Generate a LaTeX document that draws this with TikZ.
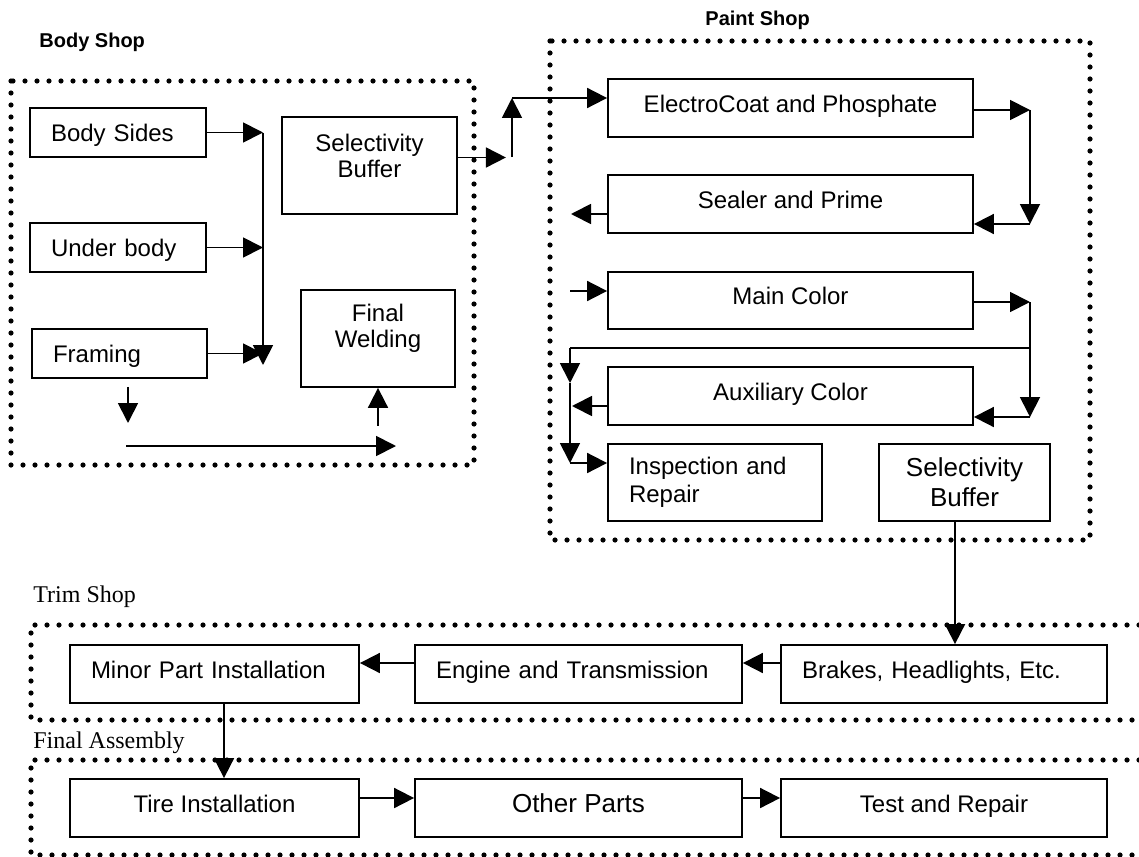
\documentclass[tikz,border=0pt]{standalone}
\usepackage{fontspec}
\setmainfont{Liberation Sans}
\newfontfamily\serifshop{Liberation Serif}
\usetikzlibrary{arrows.meta}

\begin{document}
\begin{tikzpicture}[x=0.5pt,y=-0.5pt,
    box/.style={draw,line width=0.9pt,inner sep=0pt,
      font=\fontsize{12}{14}\selectfont},
    two/.style={align=center},
    big/.style={font=\fontsize{13}{15}\selectfont},
    mid/.style={text height=8.8pt,text depth=0.2pt},
    high/.style={text height=8.8pt,text depth=4.4pt},
    lbox/.style={box,inner xsep=10.5pt,text width=#1,align=left},
    dots/.style={line width=2.6pt,line cap=round,dash pattern=on 0pt off 6pt},
    arr/.style={line width=0.9pt,-{Triangle[length=10pt,width=10pt]}},
    shop/.style={anchor=west,inner sep=0pt,font=\bfseries\fontsize{10}{12}\selectfont},
    area/.style={anchor=west,inner sep=0pt,font=\serifshop\fontsize{12}{14}\selectfont}]
  \useasboundingbox (0,0) rectangle (1139,856);

  % shop borders
  \draw[dots] (11,81) rectangle (474,465);
  \draw[dots] (550,41) rectangle (1090,540);
  \draw[dots] (1139,625) -- (31,625) -- (31,720) -- (1139,720);
  \draw[dots] (1139,760) -- (31,760) -- (31,855) -- (1139,855);

  \node[shop] (bodylbl) at (39,42) {Body Shop};
  \node[shop] (paintlbl) at (705,20) {Paint Shop};
  \node[area] (trimlbl) at (33,597) {Trim Shop};
  \node[area] (finallbl) at (33,743) {Final Assembly};

  % body shop
  \node[lbox=67pt,mid,minimum height=24.5pt] (bsides) at (118,132.5) {Body Sides};
  \node[lbox=67pt,mid,minimum height=24.5pt] (under) at (118,247.5) {Under body};
  \node[lbox=66.5pt,mid,minimum height=24.5pt] (frame) at (119.5,353.5) {Framing};
  \node[box,minimum width=87.5pt,minimum height=48.5pt,
    label={[font=\fontsize{12}{13}\selectfont,align=center,yshift=4.75pt]center:Selectivity\\Buffer}]
    (bbuf) at (369.5,165.5) {};
  \node[box,minimum width=77pt,minimum height=48.5pt,
    label={[font=\fontsize{12}{13}\selectfont,align=center,yshift=5pt]center:Final\\Welding}]
    (weld) at (378,338.5) {};

  \coordinate (mtop) at (263,132.5);
  \coordinate (mbot) at (263,365);
  \draw[arr] (bsides.east) -- (bsides.east -| mtop);
  \draw[arr] (under.east) -- (under.east -| mtop);
  \draw[arr] (frame.east) -- (frame.east -| mtop);
  \draw[arr] (mtop) -- (mbot);
  \coordinate (fdown) at (128,423);
  \draw[arr] ([yshift=-4pt]frame.south -| fdown) -- (fdown);
  \coordinate (lowL) at (126,446);
  \coordinate (lowR) at (396,446);
  \draw[arr] (lowL) -- (lowR);
  \draw[arr] ([yshift=-19pt]weld.south) -- (weld.south);

  % paint shop
  \node[box,high,minimum width=182.5pt,minimum height=29pt] (electro) at (790.5,108) {ElectroCoat and Phosphate};
  \node[box,high,minimum width=182.5pt,minimum height=29pt] (sealer) at (790.5,204) {Sealer and Prime};
  \node[box,high,minimum width=182.5pt,minimum height=28.5pt] (main) at (790.5,300.5) {Main Color};
  \node[box,high,minimum width=182.5pt,minimum height=29pt] (aux) at (790.5,396) {Auxiliary Color};
  \node[lbox=86pt,minimum height=38.5pt] (insp) at (715,482.5) {Inspection and\\Repair};
  \node[box,two,big,minimum width=85.5pt,minimum height=38.5pt] (pbuf) at (964.5,482.5) {Selectivity\\Buffer};

  \coordinate (riser) at (512,157);
  \coordinate (rtop) at (512,98);
  \draw[arr] ([yshift=4pt]bbuf.east) -- ++(24pt,0);
  \draw[arr] (riser) -- (rtop);
  \draw[arr] (rtop) -- (rtop -| electro.west);

  \coordinate (r1) at (1030,110);
  \coordinate (r1b) at (1030,224);
  \draw[arr] (r1 -| electro.east) -- (r1);
  \draw[arr] (r1) -- (r1b);
  \draw[arr] (r1b) -- (r1b -| sealer.east);
  \coordinate (sealout) at (571,214);
  \draw[arr] (sealout -| sealer.west) -- (sealout);
  \coordinate (mainin) at (570,291);
  \draw[arr] (mainin) -- (mainin -| main.west);

  \coordinate (r2) at (1030,302);
  \coordinate (r2b) at (1030,417);
  \draw[arr] (r2 -| main.east) -- (r2);
  \draw[arr] (r2) -- (r2b);
  \draw[arr] (r2b) -- (r2b -| aux.east);
  \coordinate (split) at (1030,348);
  \coordinate (l1) at (570,348);
  \coordinate (l1b) at (570,383);
  \coordinate (l2) at (570,463);
  \draw[line width=0.9pt] (split) -- (l1);
  \draw[arr] (l1) -- (l1b);
  \draw[arr] (l1b) -- (l2);
  \coordinate (auxout) at (572,406);
  \draw[arr] (auxout -| aux.west) -- (auxout);
  \draw[arr] (l2) -- (l2 -| insp.west);

  % trim shop
  \node[lbox=123.5pt,high,minimum height=29pt] (minor) at (214.5,674) {Minor Part Installation};
  \node[lbox=142.5pt,high,minimum height=29pt] (engine) at (578.5,674) {Engine and Transmission};
  \node[lbox=142pt,high,minimum height=29pt] (brakes) at (944,674) {Brakes, Headlights, Etc.};

  \coordinate (drop) at (955,0);
  \draw[arr] (pbuf.south -| drop) -- (brakes.north -| drop);
  \draw[arr] ([yshift=5.5pt]brakes.west) -- ([yshift=5.5pt]engine.east);
  \draw[arr] ([yshift=5.5pt]engine.west) -- ([yshift=5.5pt]minor.east);

  % final assembly
  \node[box,high,minimum width=144.5pt,minimum height=29pt] (tire) at (214.5,808) {Tire Installation};
  \node[box,big,high,minimum width=163.5pt,minimum height=29pt] (other) at (578.5,808) {Other Parts};
  \node[box,high,minimum width=163pt,minimum height=29pt] (test) at (944,808) {Test and Repair};

  \coordinate (chute) at (224,0);
  \draw[arr] (minor.south -| chute) -- (tire.north -| chute);
  \draw[arr] ([yshift=5pt]tire.east) -- ([yshift=5pt]other.west);
  \draw[arr] ([yshift=5pt]other.east) -- ([yshift=5pt]test.west);
\end{tikzpicture}
\end{document}
